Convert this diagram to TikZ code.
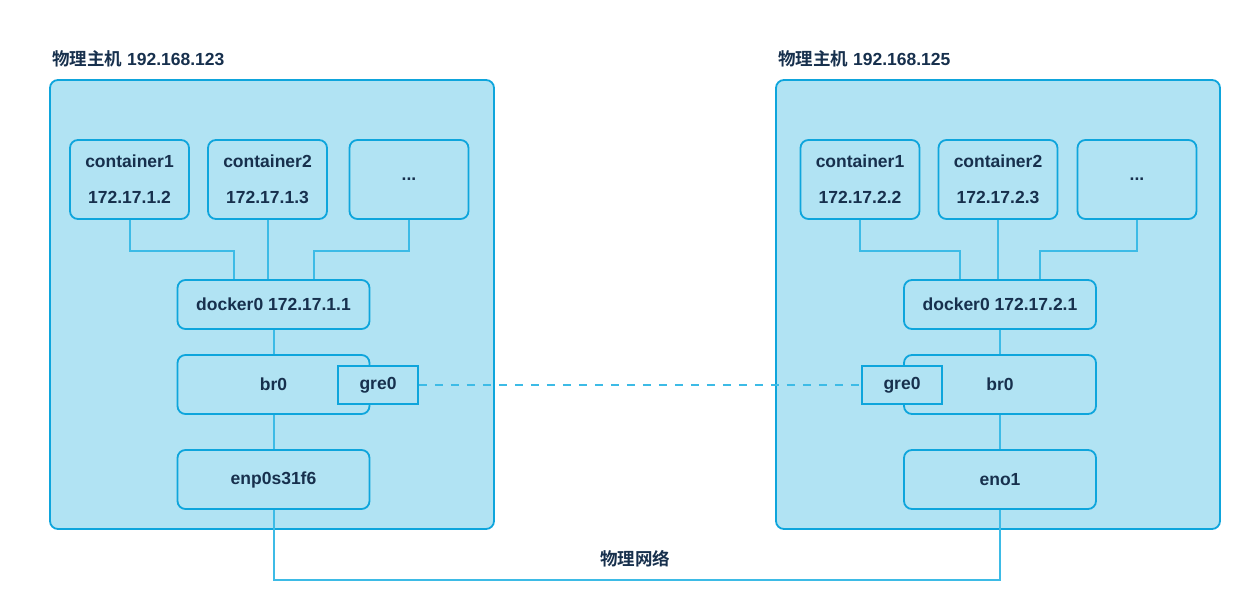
\documentclass[tikz,border=0pt]{standalone}
\usepackage{fontspec}
\setmainfont{Liberation Sans}
\newfontfamily\cjk{Noto Sans CJK SC}[BoldFont={Noto Sans CJK SC Bold}]
\usetikzlibrary{positioning}
\definecolor{hostfill}{HTML}{B1E3F3}
\definecolor{hostline}{HTML}{0EA5DC}
\definecolor{wire}{HTML}{3DBBE6}
\definecolor{txt}{HTML}{17304D}

\begin{document}
\begin{tikzpicture}[x=1pt, y=-1pt,
   font=\fontsize{17.5}{21}\selectfont\bfseries, text=txt,
   host/.style={rectangle, rounded corners=8, draw=hostline, fill=hostfill, line width=1.8pt, minimum width=444, minimum height=449, inner sep=0},
   dev/.style={rectangle, rounded corners=8, draw=hostline, fill=hostfill, line width=1.8pt, minimum width=192, minimum height=49, inner sep=0, align=center},
   ctr/.style={dev, minimum width=119, minimum height=79},
   tun/.style={rectangle, draw=hostline, fill=hostfill, line width=1.8pt, minimum width=80, minimum height=38, inner sep=0},
   title/.style={anchor=west, inner sep=0},
   wire/.style={draw=wire, line width=2pt}]
   \useasboundingbox (0,0) rectangle (1239,604);

   % left host
   \node (h1) at (272,304.5) [host] {};
   \node (t1) at (52,59) [title] {{\cjk 物理主机} 192.168.123};
   \node (a1) at (129.5,179.5) [ctr] {container1\\[15pt]172.17.1.2};
   \node (a2) at (267.5,179.5) [ctr] {container2\\[15pt]172.17.1.3};
   \node (a3) at (409,179.5) [ctr] {...};
   \node (d1) at (273.5,304.5) [dev] {docker0 172.17.1.1};
   \node (b1) at (273.5,384.5) [dev, minimum height=59] {br0};
   \node (g1) at (378,385) [tun] {gre0};
   \node (e1) at (273.5,479.5) [dev, minimum height=59] {enp0s31f6};

   % right host
   \node (h2) at (998,304.5) [host] {};
   \node (t2) at (778,59) [title] {{\cjk 物理主机} 192.168.125};
   \node (c1) at (860,179.5) [ctr] {container1\\[15pt]172.17.2.2};
   \node (c2) at (998,179.5) [ctr] {container2\\[15pt]172.17.2.3};
   \node (c3) at (1137,179.5) [ctr] {...};
   \node (d2) at (1000,304.5) [dev] {docker0 172.17.2.1};
   \node (b2) at (1000,384.5) [dev, minimum height=59] {br0};
   \node (g2) at (902,385) [tun] {gre0};
   \node (e2) at (1000,479.5) [dev, minimum height=59] {eno1};

   \draw[wire] (a1.south) -- ++(0,31) -| ([xshift=-40]d1.north);
   \draw[wire] (a2.south) -- (a2.south |- d1.north);
   \draw[wire] (a3.south) -- ++(0,31) -| ([xshift=40]d1.north);
   \draw[wire] (d1) -- (b1);
   \draw[wire] (b1) -- (e1);

   \draw[wire] (c1.south) -- ++(0,31) -| ([xshift=-40]d2.north);
   \draw[wire] (c2.south) -- (c2.south |- d2.north);
   \draw[wire] (c3.south) -- ++(0,31) -| ([xshift=40]d2.north);
   \draw[wire] (d2) -- (b2);
   \draw[wire] (b2) -- (e2);

   \draw[wire, dash pattern=on 8pt off 8pt] (g1) -- (g2);
   \draw[wire] (e1.south) -- ++(0,70) -| (e2.south);
   \node (net) at (635,559) {\cjk 物理网络};
\end{tikzpicture}
\end{document}
